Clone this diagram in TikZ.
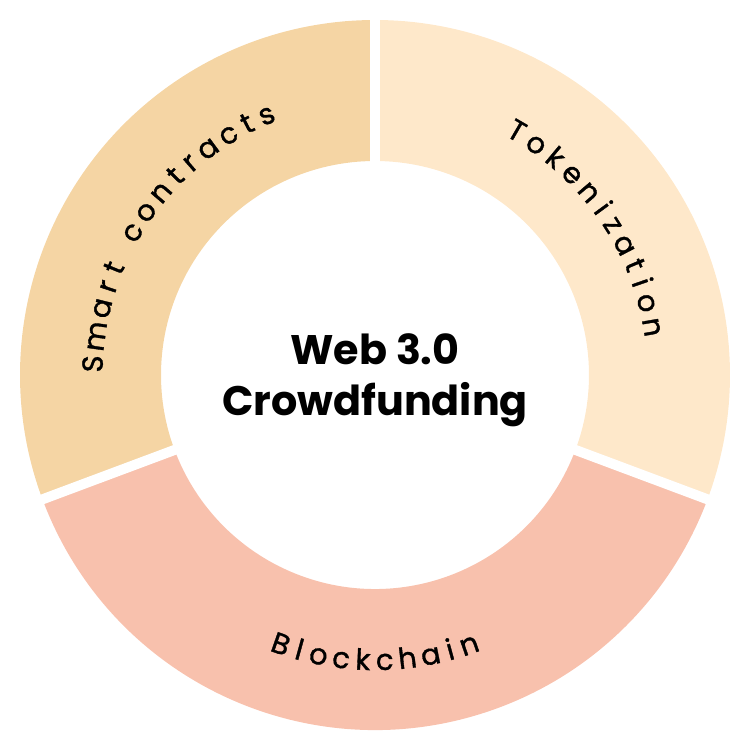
\documentclass[tikz,border=0pt]{standalone}
\usepackage{fontspec}
\setmainfont{Poppins}
\newfontfamily\labelfont[FakeBold=1.2]{Poppins}
\usetikzlibrary{decorations.text}

\definecolor{smartcol}{HTML}{F5D5A4}
\definecolor{tokencol}{HTML}{FEE8CA}
\definecolor{blockcol}{HTML}{F8C1AD}

\begin{document}
\begin{tikzpicture}[
    ringgap/.style={draw=white, line width=0.2cm},
    ringlabel/.style={decorate,
        decoration={text effects along path, text={#1}, text align=center,
                    text effects/.cd, text along path,
                    characters={font=\labelfont\fontsize{16.5}{18}\selectfont, inner xsep=3.6pt},
                    character widths={inner xsep=3.6pt}}},
    ]
\useasboundingbox (-7.5,-7.5) rectangle (7.5,7.5);
% segments of the ring
\fill[tokencol] (90:4.28) -- (90:7.1) arc[start angle=90, end angle=-20.5, radius=7.1]
    -- (-20.5:4.28) arc[start angle=-20.5, end angle=90, radius=4.28] -- cycle;
\fill[smartcol] (90:4.28) -- (90:7.1) arc[start angle=90, end angle=200.5, radius=7.1]
    -- (200.5:4.28) arc[start angle=200.5, end angle=90, radius=4.28] -- cycle;
\fill[blockcol] (200.5:4.28) -- (200.5:7.1) arc[start angle=200.5, end angle=339.5, radius=7.1]
    -- (339.5:4.28) arc[start angle=339.5, end angle=200.5, radius=4.28] -- cycle;
%%%
\draw[ringgap] (0,0) -- (90:7.3);
\draw[ringgap] (0,0) -- (-20.5:7.3);
\draw[ringgap] (0,0) -- (200.5:7.3);
%%%
\path[ringlabel={Smart contracts}] (200.5:5.45) arc[start angle=200.5, end angle=90, radius=5.45];
\path[ringlabel={Tokenization}] (90:5.45) arc[start angle=90, end angle=-20.5, radius=5.45];
\path[ringlabel={Blockchain}] (200.5:5.9) arc[start angle=200.5, end angle=339.5, radius=5.9];
%%%
\node[align=center, font=\bfseries\fontsize{23.5}{29}\selectfont] (title) at (0,-0.1) {Web 3.0\\Crowdfunding};
\end{tikzpicture}
\end{document}
